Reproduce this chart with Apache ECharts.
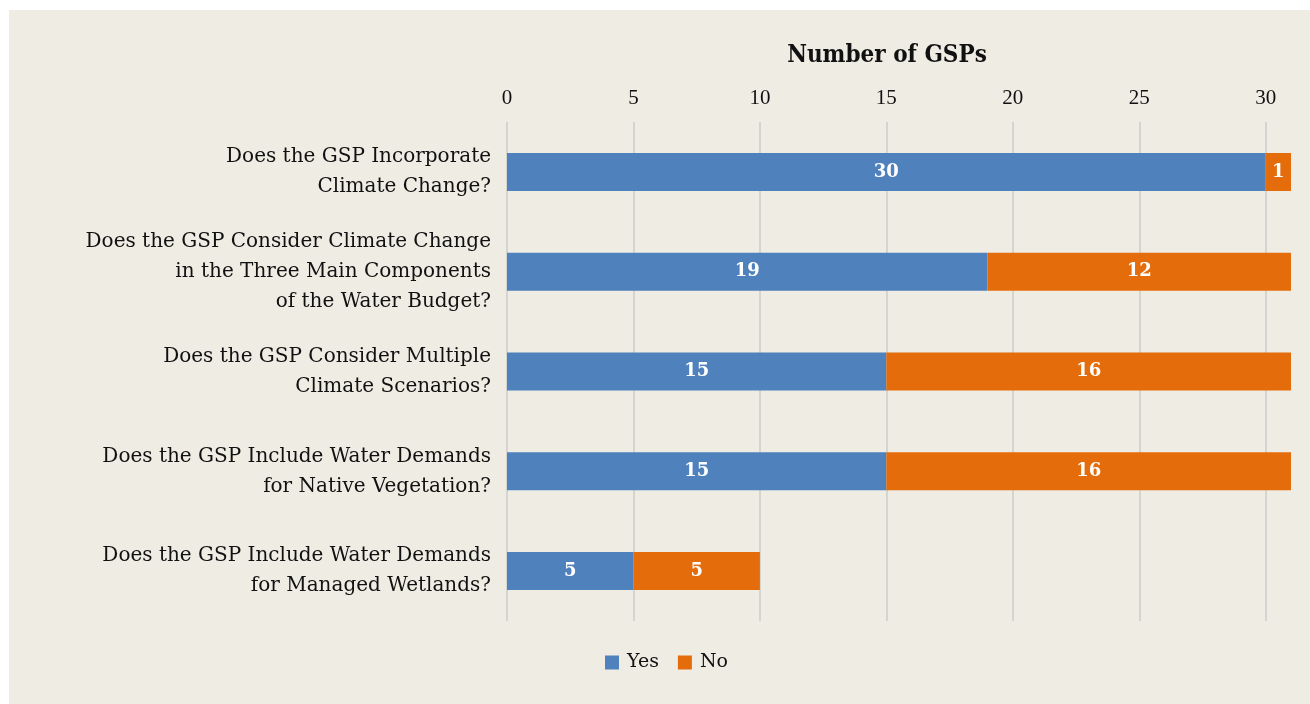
<!DOCTYPE html>
<html>
<head>
<meta charset="utf-8">
<script src="https://cdn.jsdelivr.net/npm/echarts@6/dist/echarts.min.js"></script>
<style>
  html, body { margin: 0; padding: 0; background: #ffffff; }
  #chart {
    position: absolute;
    left: 9px;
    top: 10px;
    width: 1301px;
    height: 694px;
    background: #efece4;
  }
</style>
</head>
<body>
<div id="chart"></div>
<script>
const questions = [
  'Does the GSP Incorporate\nClimate Change?',
  'Does the GSP Consider Climate Change\nin the Three Main Components\nof the Water Budget?',
  'Does the GSP Consider Multiple\nClimate Scenarios?',
  'Does the GSP Include Water Demands\nfor Native Vegetation?',
  'Does the GSP Include Water Demands\nfor Managed Wetlands?'
]
const yesCounts = [30, 19, 15, 15, 5]
const noCounts = [1, 12, 16, 16, 5]

const wideFont = '"DejaVu Serif", serif'
const narrowFont = '"Liberation Serif", serif'
const chart = echarts.init(document.getElementById('chart'))
const option = {
  backgroundColor: '#efece4',
  title: {
    text: 'Number of GSPs',
    left: 873,
    top: 29,
    textAlign: 'center',
    textStyle: { fontFamily: '"DejaVu Serif Condensed", "DejaVu Serif", serif', fontSize: 24, fontWeight: 'bold', color: '#111' }
  },
  legend: {
    data: ['Yes', 'No'],
    top: 638,
    left: 591,
    icon: 'rect',
    itemWidth: 14,
    itemHeight: 14,
    itemGap: 19,
    textStyle: { fontFamily: wideFont, fontSize: 19, color: '#111', padding: [0, 0, 0, 3] }
  },
  grid: { left: 498, right: 19, top: 112, height: 499 },
  xAxis: {
    type: 'value',
    position: 'top',
    min: 0,
    max: 31,
    interval: 5,
    axisLine: { show: false },
    axisTick: { show: false },
    axisLabel: { fontFamily: narrowFont, fontSize: 21, color: '#111', margin: 13, showMaxLabel: false },
    splitLine: { show: true, showMaxLine: false, lineStyle: { color: '#d4d4d0', width: 2 } }
  },
  yAxis: {
    type: 'category',
    inverse: true,
    data: questions,
    axisLine: { show: false },
    axisTick: { show: false },
    axisLabel: { fontFamily: wideFont, fontSize: 20, color: '#111', margin: 16, lineHeight: 30, align: 'right' }
  },
  series: [
    {
      name: 'Yes',
      type: 'bar',
      stack: 'total',
      barWidth: 38,
      itemStyle: { color: '#4f81bd' },
      label: { show: true, position: 'inside', color: '#fff', fontFamily: wideFont, fontSize: 18, fontWeight: 'bold' },
      data: yesCounts
    },
    {
      name: 'No',
      type: 'bar',
      stack: 'total',
      barWidth: 38,
      itemStyle: { color: '#e46c0a' },
      label: { show: true, position: 'inside', color: '#fff', fontFamily: wideFont, fontSize: 18, fontWeight: 'bold' },
      data: noCounts
    }
  ]
}
chart.setOption(option)
</script>
</body>
</html>
